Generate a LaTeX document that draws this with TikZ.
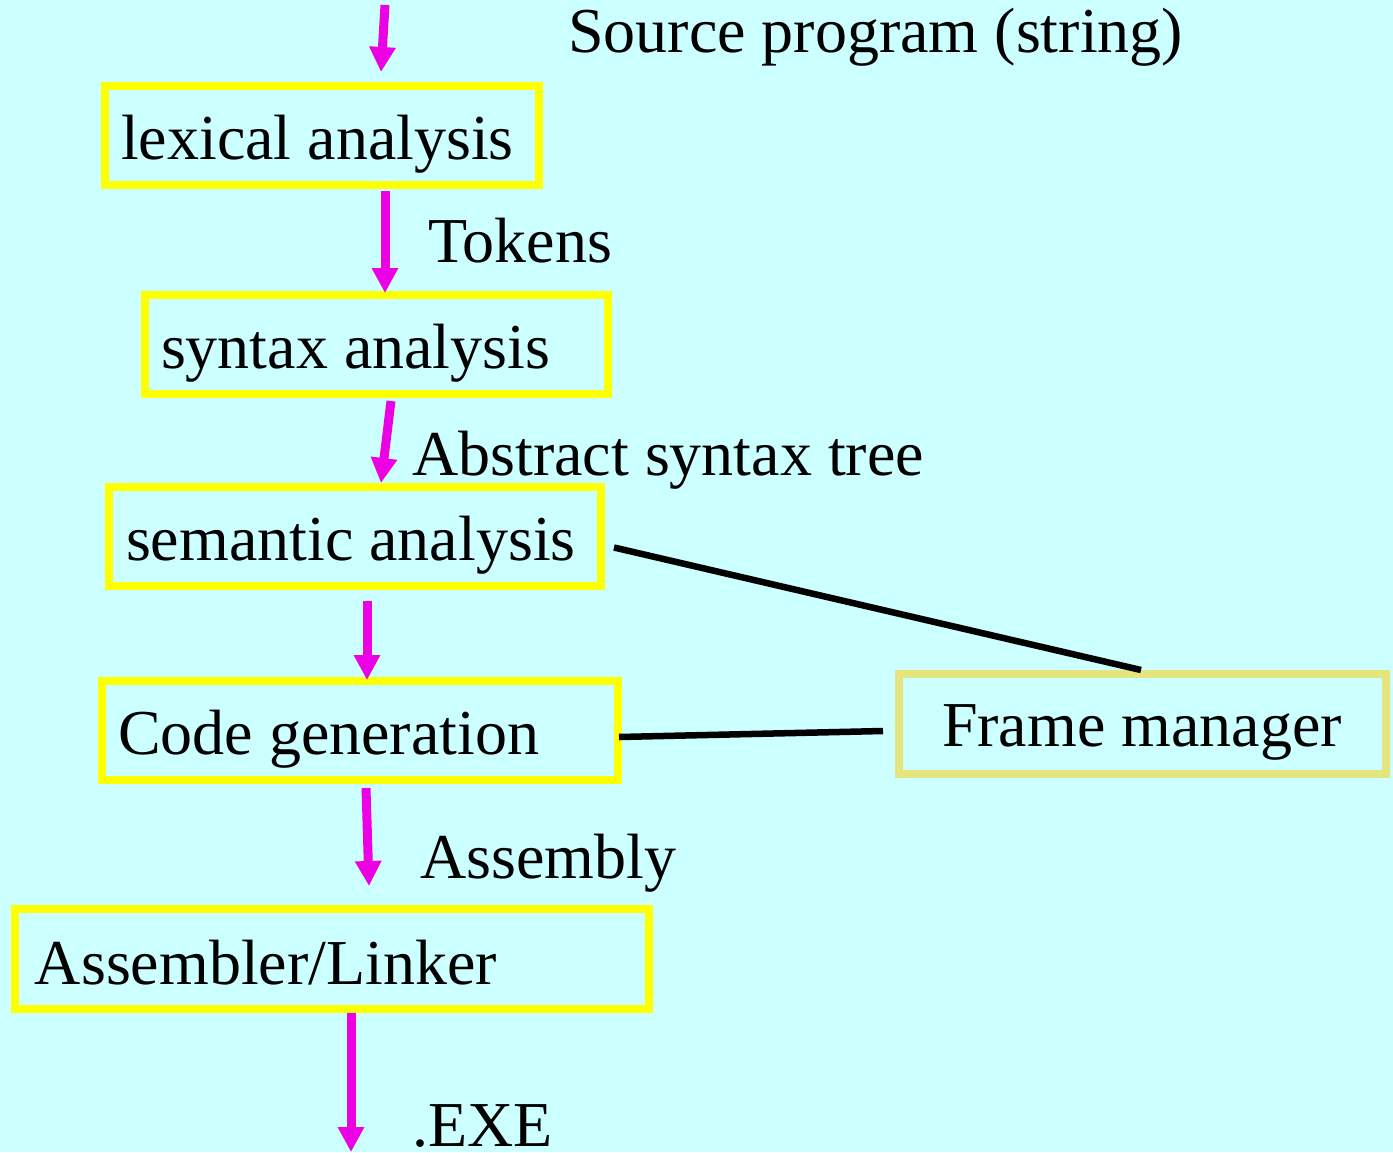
\documentclass[tikz,border=0pt]{standalone}
\usepackage{fontspec}
\setmainfont{Liberation Serif}
\usetikzlibrary{arrows.meta}
\definecolor{bg}{RGB}{204,255,255}
\definecolor{ylw}{RGB}{255,255,0}
\definecolor{khaki}{RGB}{230,228,125}
\definecolor{mag}{RGB}{236,0,228}
\newcommand{\bxt}[3]{\makebox[#1][l]{\hspace*{#2}#3}}
\tikzset{
  stagebox/.style={draw=ylw, line width=8pt, anchor=north west, inner xsep=0pt, inner ysep=0pt, outer sep=0pt,
    text height=73pt, text depth=26pt, font=\fontsize{64}{77}\selectfont},
  lbl/.style={anchor=base west, inner sep=0pt, font=\fontsize{64}{77}\selectfont},
  flow/.style={draw=mag, line width=9pt, -{Triangle[width=25pt,length=25pt]}},
  link/.style={draw=black, line width=6.5pt}
}
\begin{document}
\begin{tikzpicture}[x=1pt,y=-1pt]
\fill[bg] (0,0) rectangle (1393,1152);
\useasboundingbox (0,0) rectangle (1393,1152);

\node[stagebox] (lex) at (105,86) {\bxt{434pt}{16pt}{lexical analysis}};
\node[stagebox] (syn) at (145,295) {\bxt{463pt}{16pt}{syntax analysis}};
\node[stagebox] (sem) at (109,487) {\bxt{492pt}{17pt}{semantic analysis}};
\node[stagebox] (code) at (102,681) {\bxt{516pt}{16pt}{Code generation}};
\node[stagebox, draw=khaki, text height=72pt, text depth=28pt] (frame) at (899,674) {\bxt{487pt}{43pt}{Frame manager}};
\node[stagebox, text height=75pt, text depth=25pt] (asm) at (15,909) {\bxt{634pt}{20pt}{Assembler/Linker}};

\node[lbl] (src) at (568,52) {Source program (string)};
\node[lbl] (tok) at (428,262) {Tokens};
\node[lbl] (ast) at (412,475) {Abstract syntax tree};
\node[lbl] (asmb) at (420,878) {Assembly};
\node[lbl] (exe) at (412,1146) {.EXE};

\coordinate (in) at (385,5);
\coordinate (out) at (351,1152);

\draw[flow] (in) -- ([xshift=59pt,yshift=14pt]lex.north);
\draw[flow] ([xshift=63pt,yshift=-6pt]lex.south) -- ([xshift=8.5pt,yshift=2pt]syn.north);
\draw[flow] ([xshift=14.5pt,yshift=-7pt]syn.south) -- ([xshift=26pt,yshift=4pt]sem.north);
\draw[flow] ([xshift=12pt,yshift=-15pt]sem.south) -- ([xshift=7pt,yshift=1pt]code.north);
\draw[flow] ([xshift=6pt,yshift=-8pt]code.south) -- ([xshift=37pt,yshift=23pt]asm.north);
\draw[flow] ([xshift=19pt,yshift=-4pt]asm.south) -- (out);

\draw[link] ([xshift=13pt,yshift=-11pt]sem.east) -- ([xshift=-1.5pt,yshift=4pt]frame.north);
\draw[link] ([xshift=1pt,yshift=-6.5pt]code.east) -- ([xshift=-16pt,yshift=-7pt]frame.west);
\end{tikzpicture}
\end{document}
